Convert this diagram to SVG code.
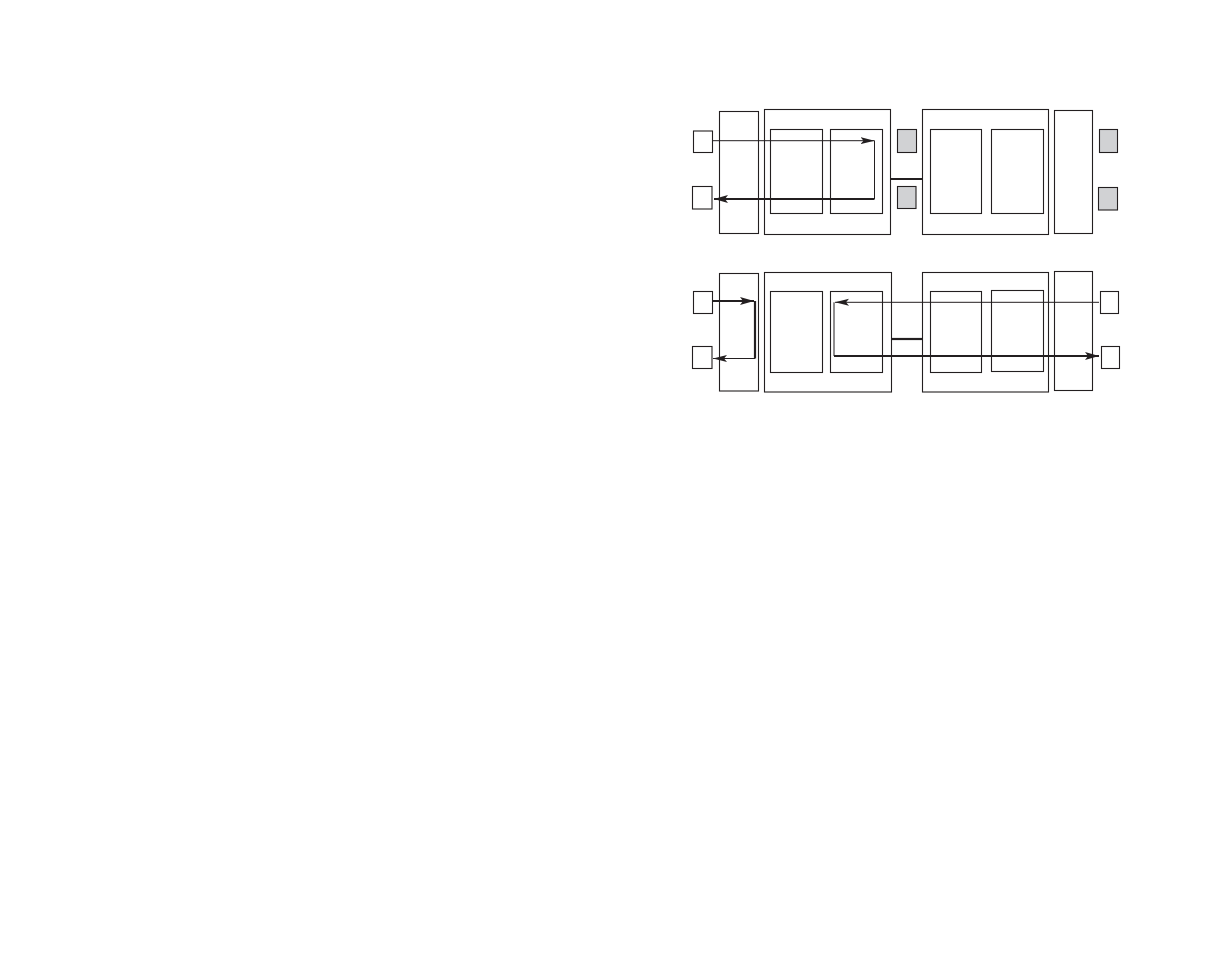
<svg xmlns="http://www.w3.org/2000/svg" width="1206" height="954" viewBox="0 0 1206 954">
<style>
.b{fill:#fff;stroke:#231f20;stroke-width:1.1}
.g{fill:#d1d2d4;stroke:#231f20;stroke-width:1.1}
.t{fill:none;stroke:#231f20;stroke-width:1}
.k{fill:none;stroke:#231f20;stroke-width:2.2}
</style>
<defs>
<marker id="ah" markerUnits="userSpaceOnUse" markerWidth="16" markerHeight="10" viewBox="0 0 16 10" refX="14" refY="5" orient="auto">
<path d="M0,1.5 L14,5 L0,8.5 L3,5 Z" fill="#231f20"/>
</marker>
<marker id="ahk" markerUnits="userSpaceOnUse" markerWidth="16" markerHeight="12" viewBox="0 0 16 12" refX="14" refY="6" orient="auto">
<path d="M0,2 L14,6 L0,10 L3,6 Z" fill="#231f20"/>
</marker>
</defs>
<rect width="1206" height="954" fill="#fff"/>
<g id="top-panel">
<g id="t-in1"><rect class="b" x="693.5" y="131" width="19" height="21.5"/></g>
<g id="t-in2"><rect class="b" x="692.5" y="186.5" width="19.5" height="22.5"/></g>
<g id="t-col1"><rect class="b" x="719.5" y="111.5" width="39" height="122"/></g>
<g id="t-box1"><rect class="b" x="764.5" y="109.5" width="126" height="125"/>
<rect class="b" x="770.5" y="129.5" width="52" height="84"/>
<rect class="b" x="830.5" y="129.5" width="52" height="84"/></g>
<g id="t-g1"><rect class="g" x="897.5" y="129.5" width="19" height="23"/></g>
<g id="t-g2"><rect class="g" x="897.5" y="186.5" width="18.5" height="22"/></g>
<g id="t-box2"><rect class="b" x="922.5" y="109.5" width="126" height="125"/>
<rect class="b" x="930.5" y="129.5" width="51" height="84"/>
<rect class="b" x="991.5" y="129.5" width="52" height="84"/></g>
<g id="t-col2"><rect class="b" x="1054.5" y="110.5" width="38" height="123"/></g>
<g id="t-g3"><rect class="g" x="1099.5" y="129.5" width="18" height="23"/></g>
<g id="t-g4"><rect class="g" x="1098.5" y="187.5" width="19" height="22.5"/></g>
</g>
<g id="bottom-panel">
<g id="b-in1"><rect class="b" x="693.5" y="291.5" width="19" height="22"/></g>
<g id="b-in2"><rect class="b" x="692.5" y="346.5" width="19.5" height="22"/></g>
<g id="b-col1"><rect class="b" x="719.5" y="273.5" width="39" height="117.5"/></g>
<g id="b-box1"><rect class="b" x="764.5" y="272.5" width="127" height="119.5"/>
<rect class="b" x="770.5" y="291.5" width="52" height="81"/>
<rect class="b" x="830.5" y="291.5" width="52" height="81"/></g>
<g id="b-box2"><rect class="b" x="922.5" y="272.5" width="126" height="119.5"/>
<rect class="b" x="930.5" y="291.5" width="51" height="81"/>
<rect class="b" x="991.5" y="290.5" width="52" height="81"/></g>
<g id="b-col2"><rect class="b" x="1054.5" y="271.5" width="38" height="119"/></g>
<g id="b-out1"><rect class="b" x="1100.5" y="291.5" width="18" height="22"/></g>
<g id="b-out2"><rect class="b" x="1101.5" y="346.5" width="18" height="22"/></g>
</g>
<g id="connectors">
<line class="k" x1="890.5" y1="179" x2="922.5" y2="179"/>
<line class="k" x1="891.5" y1="339" x2="922.5" y2="339"/>
<polyline class="t" points="712.5,140.7 874.5,140.7" marker-end="url(#ah)"/>
<line class="t" x1="874.5" y1="140.7" x2="874.5" y2="199"/>
<polyline class="k" points="874.5,199 714,199" marker-end="url(#ahk)"/>
<polyline class="k" points="712.5,301 754,301" marker-end="url(#ahk)"/>
<line class="k" x1="755" y1="301" x2="755" y2="358.5"/>
<polyline class="t" points="755,358.5 713,358.5" marker-end="url(#ah)"/>
<polyline class="t" points="1099,302.3 835,302.3" marker-end="url(#ah)"/>
<line class="t" x1="834" y1="302.3" x2="834" y2="356"/>
<polyline class="k" points="834,356 1099,356" marker-end="url(#ahk)"/>
</g>
</svg>
